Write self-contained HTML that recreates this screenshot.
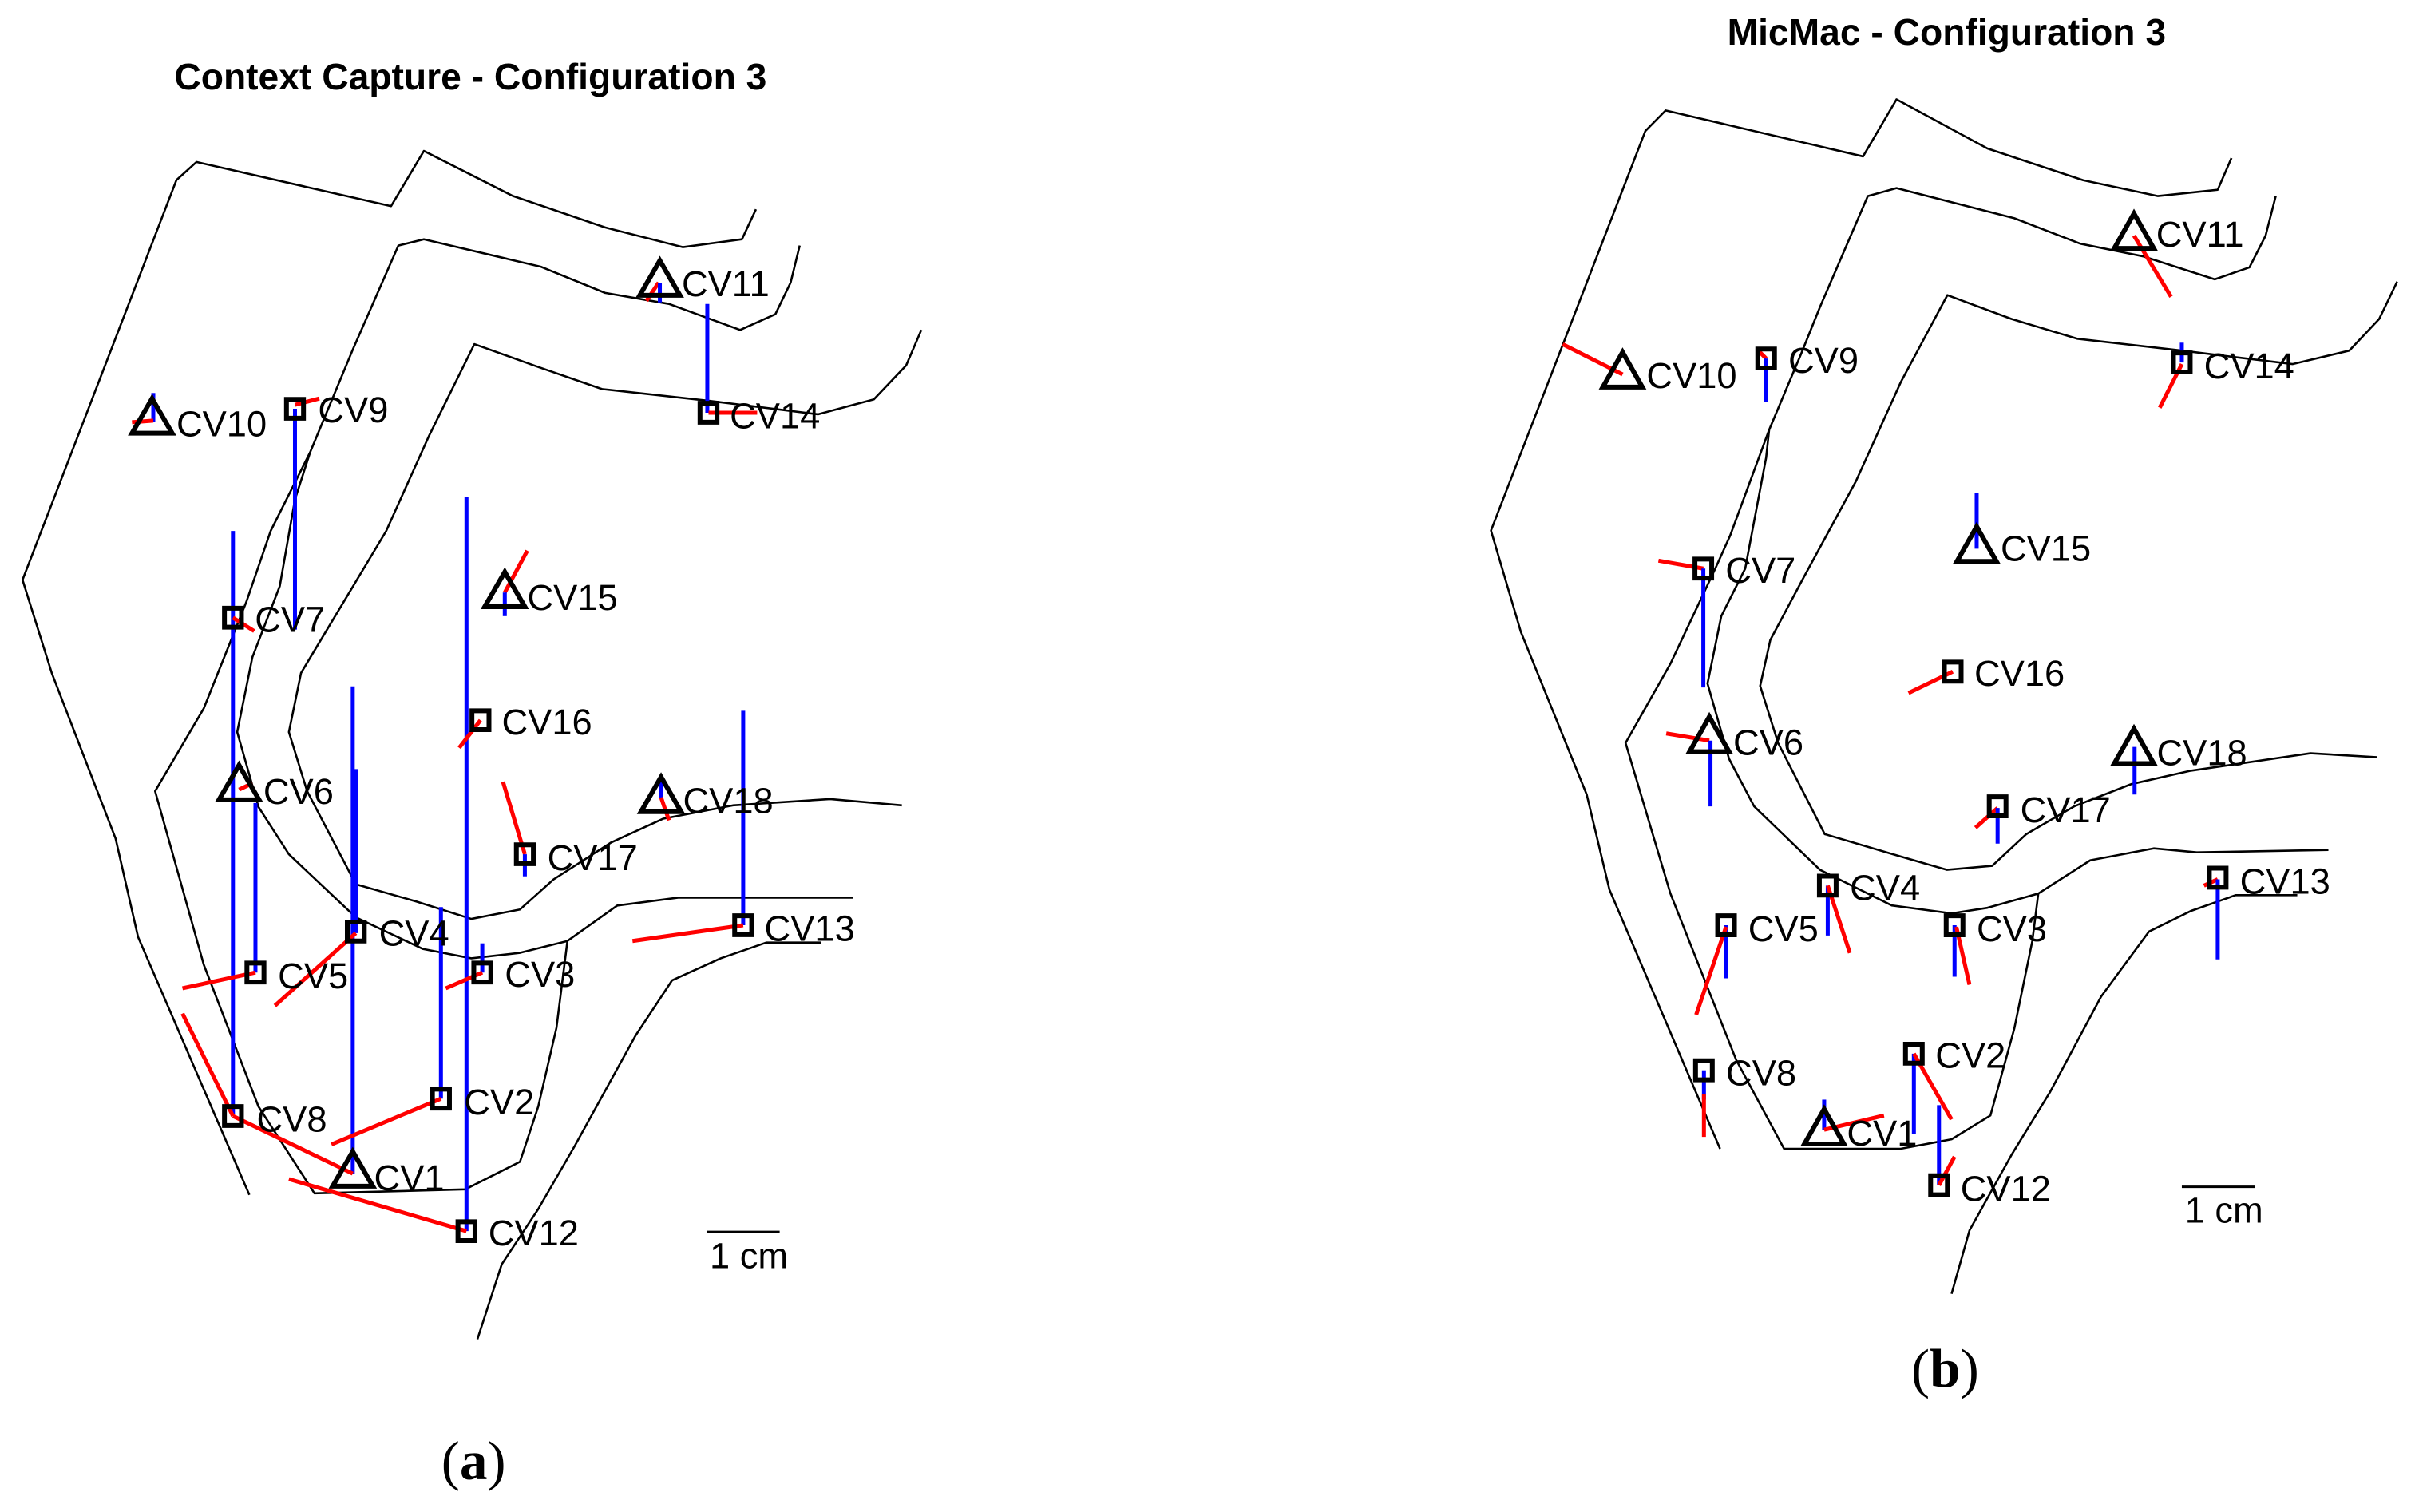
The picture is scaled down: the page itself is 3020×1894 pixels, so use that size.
<!DOCTYPE html>
<html><head><meta charset="utf-8"><style>
html,body{margin:0;padding:0;background:#fff;}
svg{display:block;}
.k{fill:none;stroke:#000;stroke-width:2.6;vector-effect:non-scaling-stroke;stroke-linejoin:round}
.r{stroke:#ff0000;stroke-width:5;vector-effect:non-scaling-stroke}
.b{stroke:#0000ff;stroke-width:5;vector-effect:non-scaling-stroke}
.m{fill:none;stroke:#000;stroke-width:6;vector-effect:non-scaling-stroke}
.t{font-family:"Liberation Sans",sans-serif;font-size:23.5px;fill:#000}
</style></head><body>
<svg width="3020" height="1894" viewBox="0 0 1568 983" xmlns="http://www.w3.org/2000/svg">
<rect width="1568" height="983" fill="#fff"/>
<text x="306" y="58" text-anchor="middle" font-family="Liberation Sans,sans-serif" font-weight="bold" font-size="24">Context Capture - Configuration 3</text>
<text x="1266" y="29" text-anchor="middle" font-family="Liberation Sans,sans-serif" font-weight="bold" font-size="24">MicMac - Configuration 3</text>
<text x="308" y="962" text-anchor="middle" font-family="Liberation Serif,serif" font-size="36">(<tspan font-weight="bold">a</tspan>)</text>
<text x="1265" y="902" text-anchor="middle" font-family="Liberation Serif,serif" font-size="36">(<tspan font-weight="bold">b</tspan>)</text>

<!-- LEFT -->
<g transform="translate(2,78.5) scale(0.3955,0.5128)">
<polyline class="k" points="1238,112 1215,150 1118,160 990,135 838,95 692,38 638,108 318,52 285,75 32,582 80,700 185,910 222,1035 405,1362"/>
<polyline class="k" points="1310,158 1295,205 1270,245 1212,265 1095,232 990,218 885,185 692,150 650,158 575,290 505,420 440,520 400,610 330,745 250,850 330,1070 420,1250 512,1360 760,1355 850,1320 880,1250 910,1150 928,1040"/>
<polyline class="k" points="505,420 480,480 455,590 410,680 385,775 420,870 470,930 580,1010 690,1050 770,1062 850,1055 928,1040 1010,995 1110,985 1398,985"/>
<polyline class="k" points="1510,265 1485,310 1432,353 1340,372 1162,355 985,340 880,312 775,283 700,400 630,520 560,610 490,700 470,775 500,850 580,968 680,990 770,1012 850,1000 905,962 1000,915 1085,885 1200,868 1360,860 1478,868"/>
<polyline class="k" points="780,1545 820,1450 880,1380 940,1300 1040,1160 1100,1090 1180,1062 1255,1042 1345,1042"/>
<line class="m" x1="1157" y1="1409" x2="1277" y2="1409" style="stroke-width:3"/>
<g>
<line class="b" x1="247" y1="345" x2="247" y2="382"/><line class="r" x1="212" y1="382" x2="247" y2="380"/>
<line class="r" x1="480" y1="360" x2="520" y2="352"/><line class="b" x1="480" y1="365" x2="480" y2="645"/>
<line class="b" x1="378" y1="520" x2="378" y2="1260"/><line class="r" x1="378" y1="630" x2="413" y2="647"/>
<line class="r" x1="388" y1="848" x2="410" y2="840"/><line class="b" x1="415" y1="865" x2="415" y2="1080"/>
<line class="r" x1="1058" y1="228" x2="1078" y2="205"/><line class="b" x1="1080" y1="205" x2="1080" y2="230"/>
<line class="b" x1="1158" y1="232" x2="1158" y2="370"/><line class="r" x1="1160" y1="370" x2="1240" y2="370"/>
<line class="r" x1="825" y1="598" x2="862" y2="545"/><line class="b" x1="825" y1="598" x2="825" y2="628"/>
<line class="b" x1="762" y1="477" x2="762" y2="1408"/><line class="r" x1="750" y1="795" x2="785" y2="760"/>
<line class="r" x1="822" y1="838" x2="858" y2="930"/><line class="b" x1="858" y1="930" x2="858" y2="958"/>
<line class="b" x1="1082" y1="830" x2="1082" y2="858"/><line class="r" x1="1082" y1="858" x2="1095" y2="887"/>
<line class="b" x1="1217" y1="748" x2="1217" y2="1020"/><line class="r" x1="1035" y1="1040" x2="1217" y2="1020"/>
<line class="b" x1="575" y1="717" x2="575" y2="1335"/><line class="b" x1="581" y1="822" x2="581" y2="1030"/><line class="r" x1="447" y1="1122" x2="580" y2="1030"/>
<line class="r" x1="295" y1="1100" x2="415" y2="1080"/>
<line class="b" x1="788" y1="1043" x2="788" y2="1080"/><line class="r" x1="728" y1="1100" x2="788" y2="1080"/>
<line class="b" x1="720" y1="997" x2="720" y2="1240"/><line class="r" x1="540" y1="1298" x2="720" y2="1240"/>
<line class="r" x1="295" y1="1132" x2="378" y2="1262"/><line class="r" x1="378" y1="1262" x2="575" y2="1335"/>
<line class="r" x1="470" y1="1342" x2="762" y2="1408"/>
</g>
<g>
<polygon class="m" points="245,352 212,396 278,396"/>
<rect class="m" x="466" y="353" width="28" height="24"/>
<rect class="m" x="364" y="618" width="28" height="24"/>
<polygon class="m" points="388,817 355,861 421,861"/>
<polygon class="m" points="1080,177 1047,221 1113,221"/>
<rect class="m" x="1146" y="358" width="28" height="24"/>
<polygon class="m" points="825,572 792,616 858,616"/>
<rect class="m" x="771" y="748" width="28" height="24"/>
<rect class="m" x="844" y="918" width="28" height="24"/>
<polygon class="m" points="1082,832 1049,876 1115,876"/>
<rect class="m" x="1203" y="1008" width="28" height="24"/>
<rect class="m" x="566" y="1016" width="28" height="24"/>
<rect class="m" x="401" y="1068" width="28" height="24"/>
<rect class="m" x="774" y="1068" width="28" height="24"/>
<rect class="m" x="706" y="1228" width="28" height="24"/>
<rect class="m" x="364" y="1250" width="28" height="24"/>
<polygon class="m" points="575,1307 542,1351 608,1351"/>
<rect class="m" x="748" y="1396" width="28" height="24"/>
</g>
<g class="t">
<text transform="translate(285,400) scale(2.528,1.95)">CV10</text>
<text transform="translate(518,382) scale(2.528,1.95)">CV9</text>
<text transform="translate(414,648) scale(2.528,1.95)">CV7</text>
<text transform="translate(428,866) scale(2.528,1.95)">CV6</text>
<text transform="translate(1116,222) scale(2.528,1.95)">CV11</text>
<text transform="translate(1195,390) scale(2.528,1.95)">CV14</text>
<text transform="translate(862,620) scale(2.528,1.95)">CV15</text>
<text transform="translate(820,778) scale(2.528,1.95)">CV16</text>
<text transform="translate(895,950) scale(2.528,1.95)">CV17</text>
<text transform="translate(1118,878) scale(2.528,1.95)">CV18</text>
<text transform="translate(1252,1040) scale(2.528,1.95)">CV13</text>
<text transform="translate(618,1046) scale(2.528,1.95)">CV4</text>
<text transform="translate(452,1100) scale(2.528,1.95)">CV5</text>
<text transform="translate(825,1098) scale(2.528,1.95)">CV3</text>
<text transform="translate(758,1260) scale(2.528,1.95)">CV2</text>
<text transform="translate(417,1282) scale(2.528,1.95)">CV8</text>
<text transform="translate(610,1356) scale(2.528,1.95)">CV1</text>
<text transform="translate(798,1426) scale(2.528,1.95)">CV12</text>
<text transform="translate(1162,1455) scale(2.528,1.95)">1 cm</text>
</g>
</g>

<!-- RIGHT -->
<g transform="translate(958,50) scale(0.389,0.5155)">
<polyline class="k" points="1268,102 1245,142 1145,150 1020,130 860,90 708,28 652,100 322,42 288,68 30,572 80,700 190,905 228,1025 413,1352"/>
<polyline class="k" points="1342,150 1325,200 1298,240 1240,255 1120,226 1015,210 905,178 708,140 660,150 580,290 548,350 495,445 430,578 405,620 330,740 255,840 330,1030 440,1240 520,1352 715,1352 800,1340 865,1310 905,1200 935,1090 945,1030"/>
<polyline class="k" points="495,445 490,480 455,620 415,680 392,765 428,860 470,920 580,1000 700,1045 800,1055 860,1048 945,1030 1032,988 1138,973 1210,978 1430,975"/>
<polyline class="k" points="1545,258 1515,305 1465,345 1370,362 1185,345 1010,330 900,305 793,275 715,385 640,510 550,635 497,710 480,768 510,840 588,955 700,980 792,1000 868,995 925,955 1005,920 1100,892 1200,875 1400,853 1512,858"/>
<polyline class="k" points="800,1535 830,1455 900,1360 965,1280 1050,1160 1130,1078 1200,1052 1275,1032 1378,1032"/>
<line class="m" x1="1185" y1="1400" x2="1307" y2="1400" style="stroke-width:3"/>
<g>
<line class="r" x1="1105" y1="200" x2="1167" y2="277"/>
<line class="r" x1="150" y1="337" x2="250" y2="375"/>
<line class="r" x1="477" y1="345" x2="490" y2="355"/><line class="b" x1="490" y1="355" x2="490" y2="410"/>
<line class="b" x1="1185" y1="335" x2="1185" y2="360"/><line class="r" x1="1185" y1="362" x2="1148" y2="417"/>
<line class="b" x1="842" y1="525" x2="842" y2="595"/>
<line class="r" x1="310" y1="610" x2="385" y2="620"/><line class="b" x1="385" y1="620" x2="385" y2="770"/>
<line class="r" x1="728" y1="777" x2="802" y2="750"/>
<line class="r" x1="323" y1="828" x2="395" y2="837"/><line class="b" x1="397" y1="837" x2="397" y2="920"/>
<line class="b" x1="1106" y1="845" x2="1106" y2="905"/>
<line class="r" x1="840" y1="947" x2="877" y2="922"/><line class="b" x1="877" y1="922" x2="877" y2="967"/>
<line class="b" x1="593" y1="1020" x2="593" y2="1083"/><line class="r" x1="593" y1="1020" x2="630" y2="1105"/>
<line class="r" x1="1222" y1="1020" x2="1245" y2="1012"/><line class="b" x1="1245" y1="1012" x2="1245" y2="1113"/>
<line class="b" x1="423" y1="1070" x2="423" y2="1137"/><line class="r" x1="423" y1="1072" x2="373" y2="1183"/>
<line class="b" x1="805" y1="1070" x2="805" y2="1135"/><line class="r" x1="808" y1="1072" x2="830" y2="1145"/>
<line class="b" x1="386" y1="1253" x2="386" y2="1290"/><line class="r" x1="386" y1="1283" x2="386" y2="1337"/>
<line class="b" x1="737" y1="1232" x2="737" y2="1333"/><line class="r" x1="737" y1="1232" x2="800" y2="1315"/>
<line class="b" x1="587" y1="1290" x2="587" y2="1328"/><line class="r" x1="587" y1="1328" x2="687" y2="1310"/>
<line class="b" x1="779" y1="1297" x2="779" y2="1398"/><line class="r" x1="779" y1="1398" x2="805" y2="1362"/>
</g>
<g>
<polygon class="m" points="1105,172 1072,216 1138,216"/>
<polygon class="m" points="250,347 217,391 283,391"/>
<rect class="m" x="476" y="343" width="28" height="24"/>
<rect class="m" x="1171" y="348" width="28" height="24"/>
<polygon class="m" points="842,567 809,611 875,611"/>
<rect class="m" x="371" y="608" width="28" height="24"/>
<rect class="m" x="788" y="738" width="28" height="24"/>
<polygon class="m" points="395,807 362,851 428,851"/>
<polygon class="m" points="1105,822 1072,866 1138,866"/>
<rect class="m" x="863" y="908" width="28" height="24"/>
<rect class="m" x="579" y="1008" width="28" height="24"/>
<rect class="m" x="1231" y="998" width="28" height="24"/>
<rect class="m" x="409" y="1058" width="28" height="24"/>
<rect class="m" x="791" y="1058" width="28" height="24"/>
<rect class="m" x="372" y="1241" width="28" height="24"/>
<rect class="m" x="723" y="1220" width="28" height="24"/>
<polygon class="m" points="587,1302 554,1346 620,1346"/>
<rect class="m" x="765" y="1386" width="28" height="24"/>
</g>
<g class="t">
<text transform="translate(1142,214) scale(2.57,1.94)">CV11</text>
<text transform="translate(290,392) scale(2.57,1.94)">CV10</text>
<text transform="translate(527,373) scale(2.57,1.94)">CV9</text>
<text transform="translate(1222,380) scale(2.57,1.94)">CV14</text>
<text transform="translate(882,610) scale(2.57,1.94)">CV15</text>
<text transform="translate(422,638) scale(2.57,1.94)">CV7</text>
<text transform="translate(838,768) scale(2.57,1.94)">CV16</text>
<text transform="translate(435,855) scale(2.57,1.94)">CV6</text>
<text transform="translate(1143,868) scale(2.57,1.94)">CV18</text>
<text transform="translate(915,940) scale(2.57,1.94)">CV17</text>
<text transform="translate(630,1038) scale(2.57,1.94)">CV4</text>
<text transform="translate(1282,1030) scale(2.57,1.94)">CV13</text>
<text transform="translate(460,1090) scale(2.57,1.94)">CV5</text>
<text transform="translate(842,1090) scale(2.57,1.94)">CV3</text>
<text transform="translate(423,1272) scale(2.57,1.94)">CV8</text>
<text transform="translate(773,1250) scale(2.57,1.94)">CV2</text>
<text transform="translate(625,1348) scale(2.57,1.94)">CV1</text>
<text transform="translate(815,1418) scale(2.57,1.94)">CV12</text>
<text transform="translate(1190,1445) scale(2.57,1.94)">1 cm</text>
</g>
</g>
</svg>
</body></html>
